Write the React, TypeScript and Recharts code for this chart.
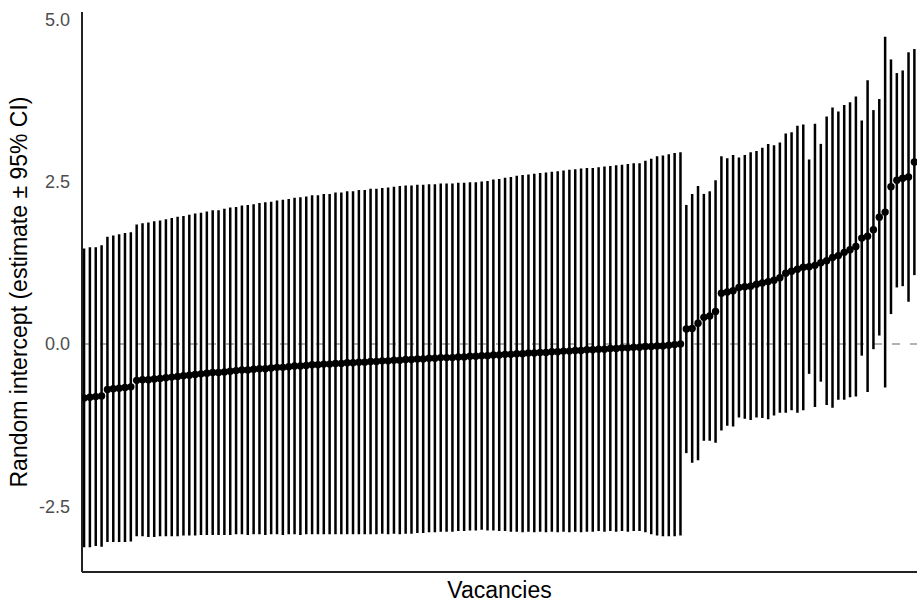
import React from 'react';
import { ScatterChart, Scatter, ErrorBar, XAxis, YAxis, ReferenceLine } from 'recharts';

// random intercepts per vacancy, sorted by estimate (left block then right block)
const estimate = [
  -0.83, -0.82, -0.81, -0.80, -0.70, -0.69, -0.68, -0.67, -0.66, -0.56,
  -0.55, -0.55, -0.54, -0.53, -0.52, -0.51, -0.50, -0.49, -0.48, -0.47,
  -0.46, -0.45, -0.44, -0.44, -0.43, -0.42, -0.41, -0.40, -0.40, -0.39,
  -0.38, -0.38, -0.37, -0.36, -0.36, -0.35, -0.34, -0.34, -0.33, -0.32,
  -0.32, -0.31, -0.31, -0.30, -0.30, -0.29, -0.29, -0.28, -0.28, -0.27,
  -0.27, -0.26, -0.26, -0.25, -0.25, -0.24, -0.24, -0.23, -0.23, -0.22,
  -0.22, -0.21, -0.21, -0.21, -0.20, -0.20, -0.19, -0.19, -0.18, -0.18,
  -0.17, -0.17, -0.16, -0.16, -0.15, -0.15, -0.14, -0.14, -0.13, -0.13,
  -0.12, -0.12, -0.11, -0.11, -0.10, -0.10, -0.09, -0.09, -0.08, -0.08,
  -0.07, -0.07, -0.06, -0.06, -0.05, -0.05, -0.04, -0.04, -0.03, -0.03,
  -0.02, -0.01, 0.00,
  0.23, 0.24, 0.32, 0.41, 0.43, 0.50, 0.78, 0.80, 0.82, 0.87,
  0.88, 0.89, 0.92, 0.94, 0.96, 0.98, 1.02, 1.09, 1.12, 1.15,
  1.18, 1.19, 1.21, 1.25, 1.28, 1.33, 1.36, 1.41, 1.45, 1.50,
  1.63, 1.66, 1.76, 1.95, 2.03, 2.42, 2.52, 2.55, 2.57, 2.80,
];

// half width of the 95% CI
const ciHalfWidth = [
  2.30, 2.31, 2.30, 2.32, 2.35, 2.36, 2.37, 2.38, 2.38, 2.40,
  2.41, 2.42, 2.43, 2.43, 2.44, 2.45, 2.46, 2.46, 2.47, 2.48,
  2.48, 2.49, 2.50, 2.50, 2.51, 2.52, 2.52, 2.53, 2.54, 2.54,
  2.55, 2.56, 2.56, 2.57, 2.58, 2.58, 2.59, 2.60, 2.60, 2.61,
  2.61, 2.62, 2.62, 2.63, 2.63, 2.64, 2.64, 2.65, 2.65, 2.66,
  2.66, 2.66, 2.67, 2.67, 2.68, 2.68, 2.68, 2.68, 2.68, 2.68,
  2.68, 2.68, 2.68, 2.68, 2.68, 2.68, 2.68, 2.68, 2.68, 2.69,
  2.70, 2.71, 2.72, 2.73, 2.74, 2.75, 2.75, 2.76, 2.76, 2.77,
  2.77, 2.78, 2.78, 2.79, 2.79, 2.80, 2.80, 2.80, 2.80, 2.81,
  2.81, 2.82, 2.82, 2.83, 2.83, 2.83, 2.86, 2.89, 2.92, 2.93,
  2.94, 2.95, 2.95,
  1.91, 2.07, 2.11, 1.90, 1.92, 2.02, 2.11, 2.06, 2.09, 2.00,
  2.03, 2.06, 2.05, 2.08, 2.12, 2.08, 2.08, 2.15, 2.14, 2.21,
  2.20, 1.65, 2.18, 1.83, 2.22, 2.31, 2.22, 2.27, 2.27, 2.31,
  1.81, 2.40, 1.84, 1.82, 2.70, 1.96, 1.65, 1.66, 1.92, 1.74,
];

const yTicks = [-2.5, 0, 2.5, 5];

const rows = estimate.map((est, i) => ({ rank: i, est, ci: ciHalfWidth[i] }));

const font = '"Liberation Sans", Arial, sans-serif';

const Dot = (props: any) => <circle cx={props.cx} cy={props.cy} r={3.7} fill="#000" />;

export default function App() {
  return (
    <div style={{ position: 'absolute', left: 0, top: 0, background: '#fff' }}>
      <ScatterChart width={917} height={602} margin={{ top: 12, right: 0, bottom: 0, left: 0 }} style={{ fontFamily: font }}>
        <XAxis
          type="number"
          dataKey="rank"
          domain={[-0.35, 142.45]}
          allowDataOverflow
          tick={false}
          tickLine={false}
          height={30}
          axisLine={{ stroke: '#222', strokeWidth: 2 }}
          label={{ value: 'Vacancies', position: 'center', dy: 3, fill: '#000', fontSize: 23 }}
        />
        <YAxis
          type="number"
          dataKey="est"
          domain={[-3.51, 5.11]}
          allowDataOverflow
          ticks={yTicks}
          tickFormatter={(v) => v.toFixed(1)}
          tick={{ fill: '#4d4d4d', fontSize: 18 }}
          tickLine={false}
          tickSize={6}
          tickMargin={6}
          width={82}
          axisLine={{ stroke: '#222', strokeWidth: 2 }}
          label={{ value: 'Random intercept (estimate ± 95% CI)', angle: -90, position: 'center', dx: -22, fill: '#000', fontSize: 23 }}
        />
        <ReferenceLine y={0} stroke="#999" strokeWidth={1.5} strokeDasharray="8 10" />
        <Scatter data={rows} shape={Dot} isAnimationActive={false}>
          <ErrorBar dataKey="ci" direction="y" width={0} stroke="#000" strokeWidth={2.5} />
        </Scatter>
      </ScatterChart>
    </div>
  );
}
